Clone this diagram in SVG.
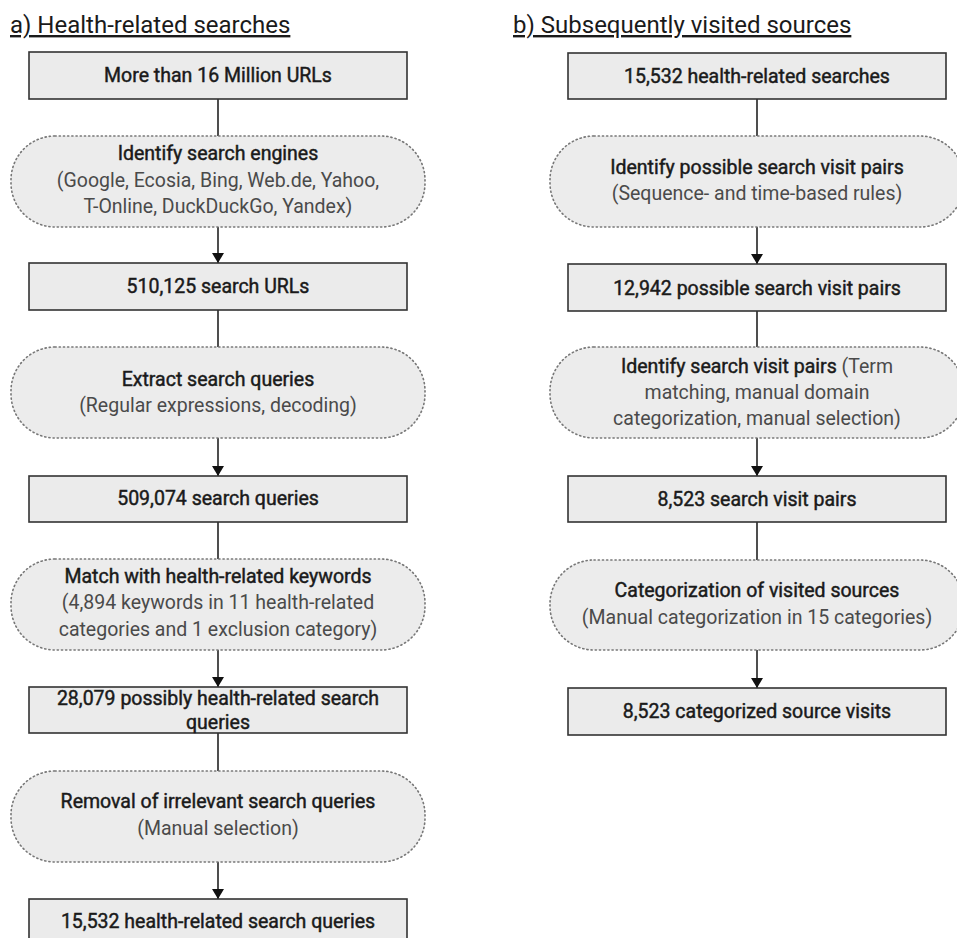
<svg xmlns="http://www.w3.org/2000/svg" width="957" height="938" viewBox="0 0 957 938">
<defs>
<marker id="ah" markerWidth="10" markerHeight="12" refX="10" refY="6" orient="auto" markerUnits="userSpaceOnUse"><path d="M0,0 L10,6 L0,12 Z" fill="#111"/></marker>
<style>
.box{fill:#ebebeb;stroke:#333;stroke-width:1.6}
.pill{fill:#ececec;stroke:#777;stroke-width:1.6;stroke-dasharray:1.2 3;stroke-linecap:round}
.t{font-family:Roboto,"Liberation Sans",sans-serif;font-size:19.5px;text-anchor:middle}
.b{fill:#1a1a1a;stroke:#1a1a1a;stroke-width:0.45px;font-weight:400}
.s{fill:#4a4a4a;font-weight:400}
.hd{font-family:Roboto,"Liberation Sans",sans-serif;font-size:24px;fill:#1a1a1a;text-decoration:underline}
.c{stroke:#222;stroke-width:1.6;fill:none}
</style>
</defs>
<rect width="957" height="938" fill="#fff"/>
<text class="hd" x="10" y="33">a) Health-related searches</text>
<text class="hd" x="513" y="33">b) Subsequently visited sources</text>
<g id="connectors">
<line class="c" x1="218" y1="99" x2="218" y2="136"/>
<line class="c" x1="218" y1="227" x2="218" y2="263" marker-end="url(#ah)"/>
<line class="c" x1="218" y1="310" x2="218" y2="347"/>
<line class="c" x1="218" y1="438" x2="218" y2="476" marker-end="url(#ah)"/>
<line class="c" x1="218" y1="522" x2="218" y2="559"/>
<line class="c" x1="218" y1="650" x2="218" y2="687" marker-end="url(#ah)"/>
<line class="c" x1="218" y1="733" x2="218" y2="771"/>
<line class="c" x1="218" y1="862" x2="218" y2="899" marker-end="url(#ah)"/>
<line class="c" x1="757" y1="99" x2="757" y2="136"/>
<line class="c" x1="757" y1="227" x2="757" y2="264" marker-end="url(#ah)"/>
<line class="c" x1="757" y1="311" x2="757" y2="347"/>
<line class="c" x1="757" y1="438" x2="757" y2="476" marker-end="url(#ah)"/>
<line class="c" x1="757" y1="522" x2="757" y2="560"/>
<line class="c" x1="757" y1="650" x2="757" y2="688" marker-end="url(#ah)"/>
</g>
<g id="a1"><rect class="box" x="29" y="52" width="378" height="47"/><text class="t b" x="218" y="82">More than 16 Million URLs</text></g>
<g id="a2"><rect class="pill" x="11" y="136" width="414" height="91" rx="44" ry="44"/><text class="t b" x="218" y="160">Identify search engines</text><text class="t s" x="218" y="187">(Google, Ecosia, Bing, Web.de, Yahoo,</text><text class="t s" x="218" y="213">T-Online, DuckDuckGo, Yandex)</text></g>
<g id="a3"><rect class="box" x="29" y="263" width="378" height="47"/><text class="t b" x="218" y="293">510,125 search URLs</text></g>
<g id="a4"><rect class="pill" x="11" y="347" width="414" height="91" rx="44" ry="44"/><text class="t b" x="218" y="386">Extract search queries</text><text class="t s" x="218" y="412">(Regular expressions, decoding)</text></g>
<g id="a5"><rect class="box" x="29" y="476" width="378" height="46"/><text class="t b" x="218" y="505">509,074 search queries</text></g>
<g id="a6"><rect class="pill" x="11" y="559" width="414" height="91" rx="44" ry="44"/><text class="t b" x="218" y="583">Match with health-related keywords</text><text class="t s" x="218" y="609">(4,894 keywords in 11 health-related</text><text class="t s" x="218" y="636">categories and 1 exclusion category)</text></g>
<g id="a7"><rect class="box" x="29" y="687" width="378" height="46"/><text class="t b" x="218" y="705">28,079 possibly health-related search</text><text class="t b" x="218" y="729">queries</text></g>
<g id="a8"><rect class="pill" x="11" y="771" width="414" height="91" rx="44" ry="44"/><text class="t b" x="218" y="808">Removal of irrelevant search queries</text><text class="t s" x="218" y="835">(Manual selection)</text></g>
<g id="a9"><rect class="box" x="29" y="899" width="378" height="46"/><text class="t b" x="218" y="928">15,532 health-related search queries</text></g>
<g id="b1"><rect class="box" x="568" y="53" width="378" height="46"/><text class="t b" x="757" y="83">15,532 health-related searches</text></g>
<g id="b2"><rect class="pill" x="550" y="136" width="414" height="91" rx="44" ry="44"/><text class="t b" x="757" y="174">Identify possible search visit pairs</text><text class="t s" x="757" y="200">(Sequence- and time-based rules)</text></g>
<g id="b3"><rect class="box" x="568" y="264" width="378" height="47"/><text class="t b" x="757" y="295">12,942 possible search visit pairs</text></g>
<g id="b4"><rect class="pill" x="550" y="347" width="414" height="91" rx="44" ry="44"/><text class="t" x="757" y="373"><tspan class="b">Identify search visit pairs</tspan><tspan class="s"> (Term</tspan></text><text class="t s" x="757" y="399">matching, manual domain</text><text class="t s" x="757" y="425">categorization, manual selection)</text></g>
<g id="b5"><rect class="box" x="568" y="476" width="378" height="46"/><text class="t b" x="757" y="506">8,523 search visit pairs</text></g>
<g id="b6"><rect class="pill" x="550" y="560" width="414" height="90" rx="44" ry="44"/><text class="t b" x="757" y="597">Categorization of visited sources</text><text class="t s" x="757" y="624">(Manual categorization in 15 categories)</text></g>
<g id="b7"><rect class="box" x="568" y="688" width="378" height="47"/><text class="t b" x="757" y="718">8,523 categorized source visits</text></g>
</svg>
